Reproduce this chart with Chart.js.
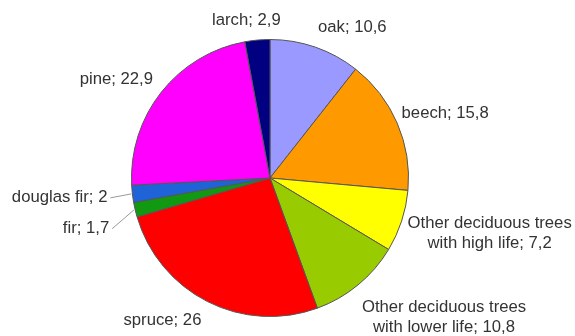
<!DOCTYPE html>
<html lang="en">
<head>
    <meta charset="UTF-8">
    <title>Tree species share</title>
    <script src="https://cdn.jsdelivr.net/npm/chart.js"></script>
    <style>
        html, body { margin: 0; padding: 0; background: #fff; }
        #wrap { width: 575px; height: 336px; }
    </style>
</head>
<body>
    <div id="wrap"><canvas id="pieChart" width="575" height="336"></canvas></div>

    <script>
    // data, clockwise from 12 o'clock
    const species = ['oak', 'beech', ['Other deciduous trees', 'with high life'], ['Other deciduous trees', 'with lower life'],
                     'spruce', 'fir', 'douglas fir', 'pine', 'larch'];
    const shares = [10.6, 15.8, 7.2, 10.8, 26, 1.7, 2, 22.9, 2.9];
    const shareText = ['10,6', '15,8', '7,2', '10,8', '26', '1,7', '2', '22,9', '2,9'];
    const colors = ['#9999ff', '#ff9900', '#ffff00', '#99cc00', '#ff0000', '#119911', '#1f63d8', '#ff00ff', '#000080'];

    // label placement relative to the slice's rim midpoint
    const labelSetup = [
        { dx: 37, dy: -20, align: 'center' },
        { dx: 48, dy: -10, align: 'center' },
        { dx: 88, dy: 12, align: 'center' },
        { dx: 86, dy: 32, align: 'center' },
        { dx: -45, dy: 19, align: 'center' },
        { dx: -26, dy: 19, align: 'right', leader: true },
        { dx: -25, dy: 4, align: 'right', leader: true },
        { dx: -45, dy: -13, align: 'center' },
        { dx: -11, dy: -20, align: 'center' }
    ];

    const sliceLabels = {
        id: 'sliceLabels',
        afterDatasetsDraw(chart) {
            const c = chart.ctx;
            const arcs = chart.getDatasetMeta(0).data;
            c.save();
            c.font = '16.7px "Liberation Sans", Arial, sans-serif';
            c.fillStyle = '#333';
            c.textBaseline = 'middle';
            arcs.forEach((arc, i) => {
                const mid = (arc.startAngle + arc.endAngle) / 2;
                const rx = arc.x + Math.cos(mid) * arc.outerRadius;
                const ry = arc.y + Math.sin(mid) * arc.outerRadius;
                const s = labelSetup[i];
                const tx = rx + s.dx, ty = ry + s.dy;
                let lines = Array.isArray(species[i]) ? species[i].slice() : [species[i]];
                lines[lines.length - 1] += '; ' + shareText[i];
                c.textAlign = s.align;
                const lh = 20;
                const y0 = ty - (lines.length - 1) * lh / 2;
                lines.forEach((ln, k) => c.fillText(ln, tx, y0 + k * lh));
                if (s.leader) {
                    c.strokeStyle = '#999';
                    c.lineWidth = 1;
                    c.beginPath();
                    c.moveTo(tx + 3, ty);
                    c.lineTo(rx - 1, ry);
                    c.stroke();
                }
            });
            c.restore();
        }
    };

    new Chart(document.getElementById('pieChart'), {
        type: 'pie',
        data: {
            labels: species.map(s => Array.isArray(s) ? s.join(' ') : s),
            datasets: [{
                data: shares,
                backgroundColor: colors,
                borderColor: '#555',
                borderWidth: 1
            }]
        },
        options: {
            responsive: false,
            animation: false,
            layout: { padding: { top: 39, bottom: 19, left: 131, right: 166 } },
            plugins: {
                legend: { display: false },
                tooltip: { enabled: false }
            }
        },
        plugins: [sliceLabels]
    });
    </script>
</body>
</html>
